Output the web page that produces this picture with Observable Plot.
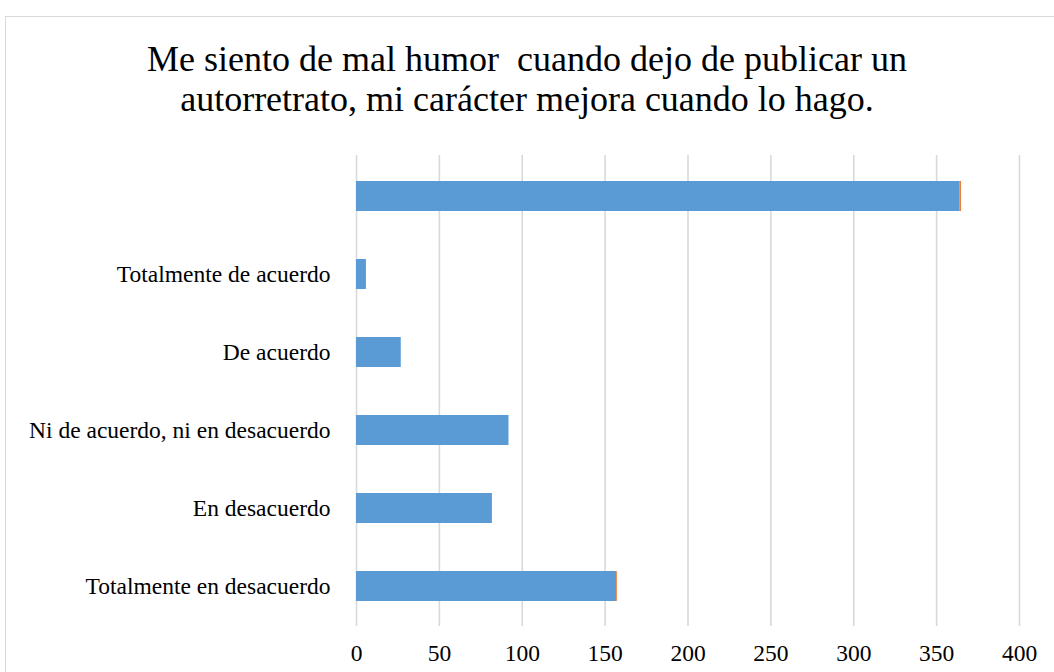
<!DOCTYPE html>
<html>
<head>
<meta charset="utf-8">
<script src="https://cdn.jsdelivr.net/npm/d3@7"></script>
<script src="https://cdn.jsdelivr.net/npm/@observablehq/plot@0.6"></script>
<style>
  html, body { margin: 0; padding: 0; background: #fff; overflow: hidden; width: 1054px; height: 672px; }
  #frame { position: absolute; left: 5px; top: 16px; width: 1100px; height: 700px; border: 1px solid #d9d9d9; box-sizing: border-box; }
  #title { position: absolute; left: 0; top: 39px; width: 1054px; text-align: center; font-family: "Liberation Serif", "Times New Roman", serif; font-size: 36px; line-height: 40px; color: #000; white-space: pre; }
  #chart { position: absolute; left: 0; top: 0; }
</style>
</head>
<body>
<div id="frame"></div>
<div id="chart"></div>
<div id="title">Me siento de mal humor  cuando dejo de publicar un
autorretrato, mi carácter mejora cuando lo hago.</div>
<script>
const categories = ["", "Totalmente de acuerdo", "De acuerdo", "Ni de acuerdo, ni en desacuerdo", "En desacuerdo", "Totalmente en desacuerdo"];
const series1 = [364, 6, 27, 92, 82, 157];
const series2 = [1, 0, 0, 0, 0, 0.5];
const seriesNames = ["Serie 1", "Serie 2"];
const xTicks = [0, 50, 100, 150, 200, 250, 300, 350, 400];

const data = [];
categories.forEach((c, i) => {
  data.push({cat: c, series: seriesNames[0], value: series1[i]});
  data.push({cat: c, series: seriesNames[1], value: series2[i]});
});

const chart = Plot.plot({
  width: 1054,
  height: 672,
  marginLeft: 356,
  marginRight: 35,
  marginTop: 155,
  marginBottom: 46,
  style: {fontFamily: "'Liberation Serif', 'Times New Roman', serif", fontSize: "23.5px", color: "#000", background: "transparent", overflow: "visible"},
  x: {domain: [0, 400], ticks: xTicks, tickSize: 0, tickPadding: 18, label: null, line: false},
  y: {domain: categories, paddingInner: 0.62, paddingOuter: 0.31, tickSize: 0, tickPadding: 26, label: null},
  color: {domain: seriesNames, range: ["#5B9BD5", "#ED7D31"]},
  marks: [
    Plot.ruleX(xTicks, {stroke: "#d9d9d9", strokeWidth: 1.6}),
    Plot.barX(data, {x: "value", y: "cat", fill: "series", order: seriesNames}),
    Plot.axisX({ticks: xTicks, tickSize: 0, tickPadding: 18, label: null, fill: "#000"}),
    Plot.axisY({tickSize: 0, tickPadding: 26, label: null, fill: "#000", tickFormat: d => d})
  ]
});
document.getElementById("chart").appendChild(chart);
</script>
</body>
</html>
